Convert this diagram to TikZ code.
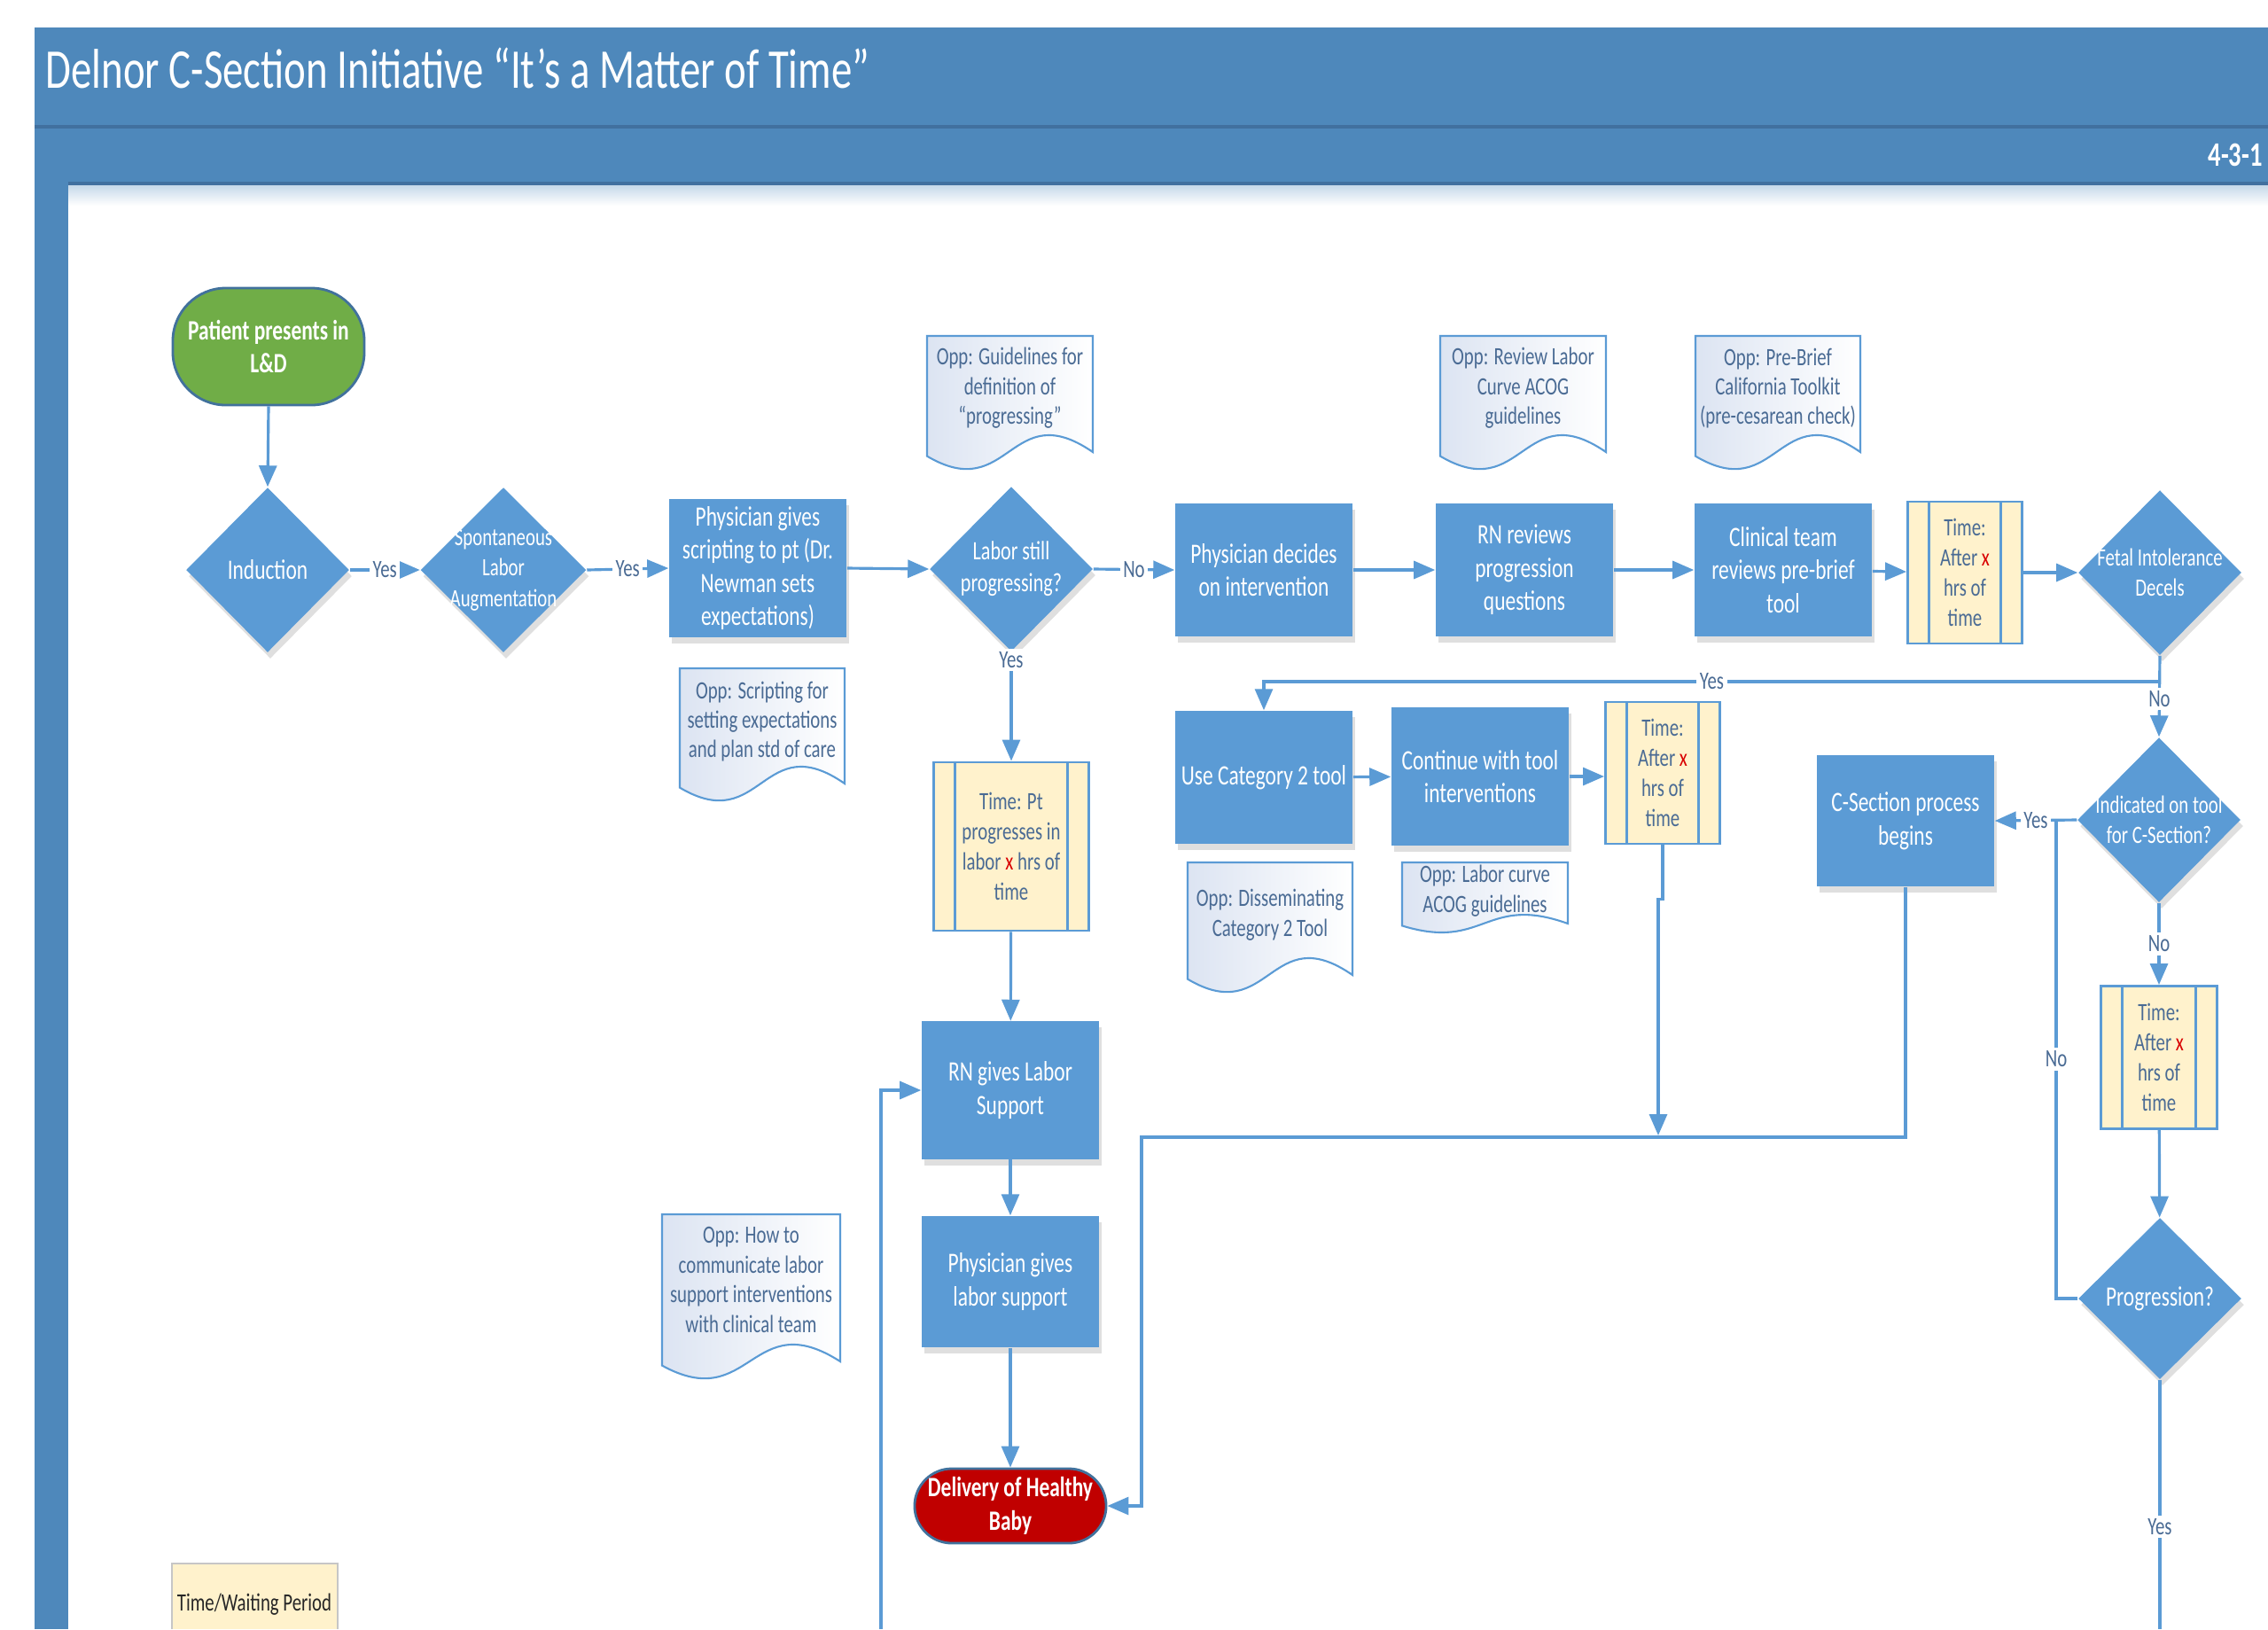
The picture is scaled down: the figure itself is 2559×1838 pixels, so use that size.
\documentclass[tikz,border=0pt]{standalone}
\usepackage{fontspec}
\setmainfont[FakeStretch=0.74]{Carlito}
\usetikzlibrary{positioning,arrows.meta,shapes.geometric,calc,shadows}

\definecolor{barblue}{HTML}{4E88BB}
\definecolor{barline}{HTML}{41709F}
\definecolor{shapeblue}{HTML}{5B9BD5}
\definecolor{startgreen}{HTML}{70AD47}
\definecolor{endred}{HTML}{C00000}
\definecolor{rimblue}{HTML}{41719C}
\definecolor{waitfill}{HTML}{FFF2CC}
\definecolor{notetext}{HTML}{4A6B94}
\definecolor{notetint}{HTML}{DCE4F2}

% opportunity note: [wave] name, left, top, right, bottom, text y, text
\newcommand{\oppnote}[8][46]{%
  \path[notebody] (#3,#4) -- (#5,#4) -- (#5,#6-0.5*#1)
    .. controls ({(#3+#5)/2},#6-1.9*#1) and ({(#3+#5)/2},#6+0.8*#1) .. (#3,#6-0.4*#1) -- cycle;
  \node[notelabel] (#2) at ({(#3+#5)/2},#7) {#8};
}

\tikzset{
  soft/.style={drop shadow={shadow xshift=0.3mm, shadow yshift=-0.7mm, opacity=0.18, fill=black!70}},
  flowbox/.style={rectangle, fill=shapeblue, soft, text=white, inner sep=0pt, align=center,
    minimum width=2cm, minimum height=1.5cm, font=\fontsize{9}{10.7}\selectfont},
  decision/.style={diamond, fill=shapeblue, soft, inner sep=0pt, minimum width=1.84cm, minimum height=1.86cm},
  dlabel/.style={text=white, align=center, inner sep=0pt, font=\fontsize{8.5}{10.2}\selectfont},
  terminal/.style={rectangle, rounded corners=0.6cm, draw=rimblue, line width=0.8pt, text=white,
    align=center, inner sep=0pt, font=\bfseries\fontsize{9}{10.7}\selectfont},
  waitbox/.style={rectangle, fill=waitfill, draw=shapeblue, line width=0.8pt, text=notetext,
    align=center, inner sep=0pt, minimum width=1.29cm, minimum height=1.6cm,
    font=\fontsize{8}{9.6}\selectfont,
    path picture={\draw[shapeblue, line width=0.8pt]
      ([xshift=0.24cm]path picture bounding box.north west) -- ([xshift=0.24cm]path picture bounding box.south west)
      ([xshift=-0.24cm]path picture bounding box.north east) -- ([xshift=-0.24cm]path picture bounding box.south east);}},
  notebody/.style={draw=shapeblue, line width=0.6pt, left color=notetint, right color=white},
  notelabel/.style={text=notetext, align=center, inner sep=0pt, font=\fontsize{8}{9.5}\selectfont},
  flow/.style={draw=shapeblue, line width=0.9pt, -{Triangle[length=2.4mm, width=2mm]}},
  wire/.style={draw=shapeblue, line width=0.9pt},
  choice/.style={fill=white, text=notetext, inner sep=1pt, font=\fontsize{8}{9}\selectfont},
}

\newcommand{\xmark}{\textcolor{red!85!black}{x}}

\begin{document}
\begin{tikzpicture}[x=0.01cm, y=-0.01cm]
\useasboundingbox (0,0) rectangle (2559,1838);

% header and side strip
\shade[top color=barblue!35, bottom color=white] (77,207) rectangle (2559,232);
\fill[barblue] (39,31) rectangle (2559,207);
\fill[barblue] (39,207) rectangle (77,1838);
\draw[barline, line width=1.2pt] (39,143) -- (2559,143);
\draw[barline, line width=1.2pt] (77,207) -- (2559,207);
\node[anchor=base west, text=white, inner sep=0pt, font=\fontsize{18}{20}\selectfont] (title) at (51,99)
  {Delnor C-Section Initiative “It’s a Matter of Time”};
\node[anchor=base west, text=white, inner sep=0pt, font=\bfseries\fontsize{11}{12}\selectfont] (date) at (2491,187) {4-3-1};

% notes
\oppnote{noteprog}{1046}{379}{1233}{533}{438}{Opp: Guidelines for\\definition of\\“progressing”}
\oppnote{notecurve}{1625}{379}{1812}{533}{438}{Opp: Review Labor\\Curve ACOG\\guidelines}
\oppnote{notebrief}{1913}{379}{2099}{533}{438}{Opp: Pre-Brief\\California Toolkit\\(pre-cesarean check)}
\oppnote{notescript}{767}{754}{953}{907}{814}{Opp: Scripting for\\setting expectations\\and plan std of care}
\oppnote{notecat}{1340}{973}{1526}{1123}{1032}{Opp: Disseminating\\Category 2 Tool}
\oppnote[24]{noteacog}{1582}{973}{1769}{1054}{1005}{Opp: Labor curve\\ACOG guidelines}
\oppnote{notecomm}{747}{1370}{948}{1559}{1444}{Opp: How to\\communicate labor\\support interventions\\with clinical team}

% main row
\node[terminal, fill=startgreen, minimum width=2.16cm, minimum height=1.32cm] (start) at (303,391) {Patient presents in\\L\&D};
\node[decision] (induct) at (302,643) {};
\node[dlabel, font=\fontsize{9}{10.7}\selectfont] (inducttext) at (induct) {Induction};
\node[decision, minimum width=1.87cm] (spont) at (568,643) {};
\node[dlabel, font=\fontsize{8}{9.8}\selectfont] (sponttext) at (spont) {Spontaneous\\Labor\\Augmentation};
\node[flowbox, minimum height=1.56cm] (script) at (855,641) {Physician gives\\scripting to pt (Dr.\\Newman sets\\expectations)};
\node[decision] (still) at (1141,642) {};
\node[dlabel] (stilltext) at (still) {Labor still\\progressing?};
\node[flowbox] (decide) at (1426,643) {Physician decides\\on intervention};
\node[flowbox] (rnrev) at (1720,643) {RN reviews\\progression\\questions};
\node[flowbox] (clin) at (2012,643) {Clinical team\\reviews pre-brief\\tool};
\node[waitbox] (wait1) at (2217,646) {Time:\\After \xmark\\hrs of\\time};
\node[decision] (fetal) at (2437,646) {};
\node[dlabel, font=\fontsize{8}{9.8}\selectfont] (fetaltext) at (fetal) {Fetal Intolerance\\Decels};

% middle row
\node[flowbox] (cat2) at (1426,877) {Use Category 2 tool};
\node[flowbox, minimum height=1.55cm] (cont) at (1670,876) {Continue with tool\\interventions};
\node[waitbox] (wait2) at (1876,872) {Time:\\After \xmark\\hrs of\\time};
\node[flowbox, minimum height=1.48cm] (csec) at (2150,926) {C-Section process\\begins};
\node[decision] (indic) at (2436,925) {};
\node[dlabel, font=\fontsize{8}{9.8}\selectfont] (indictext) at (indic) {Indicated on tool\\for C-Section?};
\node[waitbox, minimum width=1.31cm, minimum height=1.61cm] (wait3) at (2436,1193) {Time:\\After \xmark\\hrs of\\time};
\node[decision, minimum height=1.82cm] (prog) at (2437,1465) {};
\node[dlabel, font=\fontsize{9}{10.7}\selectfont] (progtext) at (prog) {Progression?};

% labor column
\node[waitbox, minimum width=1.75cm, minimum height=1.9cm] (waitpt) at (1141,955) {Time: Pt\\progresses in\\labor \xmark\ hrs of\\time};
\node[flowbox, minimum height=1.55cm] (rnsup) at (1140,1230) {RN gives Labor\\Support};
\node[flowbox, minimum height=1.48cm] (physup) at (1140,1446) {Physician gives\\labor support};
\node[terminal, fill=endred, rounded corners=0.42cm, minimum width=2.16cm, minimum height=0.84cm] (baby) at (1140,1699) {Delivery of Healthy\\Baby};

% legend
\fill[waitfill] (194,1764) rectangle (381,1838);
\draw[gray!45, line width=0.6pt] (194,1838) -- (194,1764) -- (381,1764) -- (381,1838);
\node[text=black!85, font=\fontsize{8}{9}\selectfont] (legend) at (287,1810) {Time/Waiting Period};

% free ends
\coordinate (loopin) at (994,1838);
\coordinate (yesturn) at (2437,769);
\coordinate (merge) at (1871,1281);
\coordinate (bend) at (1288,1283);
\coordinate (nojoin) at (2320,925);
\coordinate (progout) at (2437,1838);

% connectors
\draw[flow] (start.south) -- (induct.north);
\draw[flow] (induct.east) -- node[choice]{Yes} (spont.west);
\draw[flow] (spont.east) -- node[choice]{Yes} (script.west);
\draw[flow] (script.east) -- (still.west);
\draw[flow] (still.east) -- node[choice]{No} (decide.west);
\draw[flow] (decide) -- (rnrev);
\draw[flow] (rnrev) -- (clin);
\draw[flow] (clin) -- (wait1);
\draw[flow] (wait1) -- (fetal.west);
\draw[flow] (still.south) -- node[choice, pos=0.07]{Yes} (waitpt.north);
\draw[flow] (waitpt) -- (rnsup);
\draw[flow] (rnsup) -- (physup);
\draw[flow] (physup) -- (baby);
\draw[flow] (loopin) |- (rnsup.west);
\draw[flow] (fetal.south) -- node[choice, pos=0.53]{No} (indic.north);
\draw[flow] (yesturn) -| node[choice, pos=0.25]{Yes} (cat2.north);
\draw[flow] (cat2) -- (cont);
\draw[flow] (cont.east) -- (cont.east -| wait2.west);
\draw[flow] (wait2.south) -- ++(0,61) -- ++(-5,0) -- (merge);
\draw[flow] (csec.south) |- (bend) |- (baby.east);
\draw[flow] (indic.west) -- node[choice]{Yes} (csec.east);
\draw[flow] (indic.south) -- node[choice]{No} (wait3.north);
\draw[flow] (wait3) -- (prog);
\draw[wire] (prog.west) -| node[choice, pos=0.75]{No} (nojoin);
\draw[wire] (prog.south) -- node[choice, pos=0.59]{Yes} (progout);
\end{tikzpicture}
\end{document}
